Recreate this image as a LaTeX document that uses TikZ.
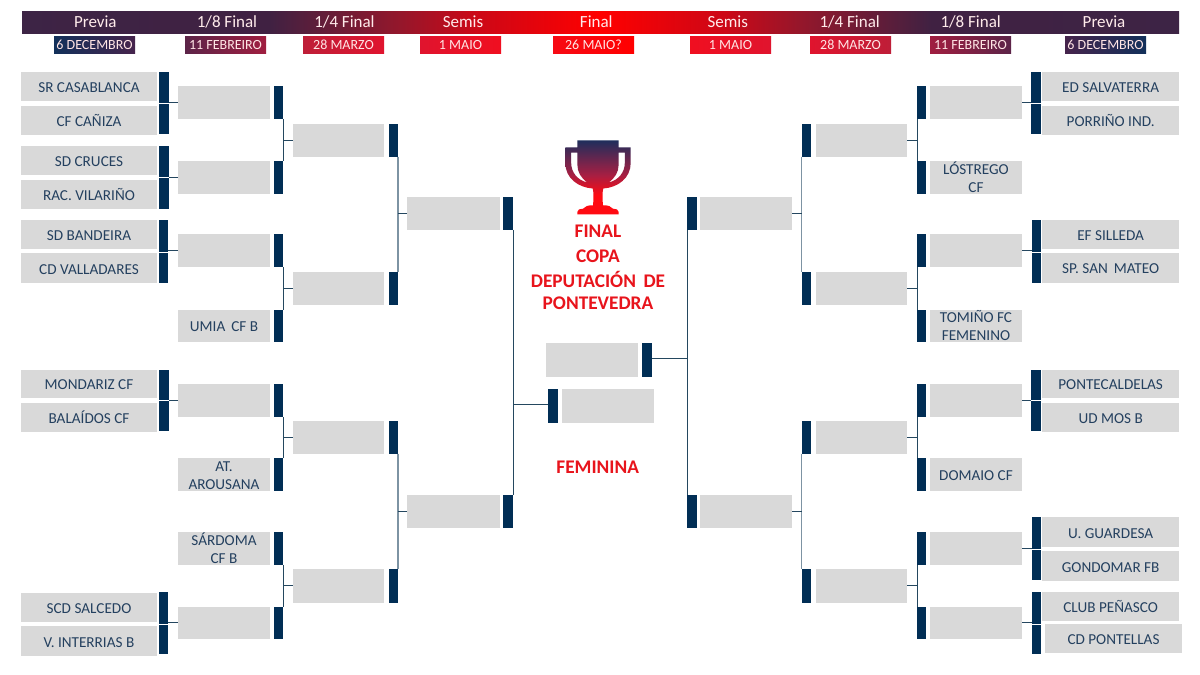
\documentclass[tikz,border=0pt]{standalone}
\usepackage{fontspec}
\setmainfont{Carlito}
\definecolor{navy}{HTML}{012E55}
\definecolor{cellg}{HTML}{D9D9D9}
\definecolor{txt}{HTML}{24405F}
\definecolor{wire}{HTML}{24475F}
\definecolor{wirel}{HTML}{7D93A3}
\definecolor{redt}{HTML}{E8141C}
\pgfdeclarehorizontalshading{hdr}{100bp}{
 rgb(0bp)=(0.24,0.14,0.27);
 rgb(25bp)=(0.24,0.14,0.27);
 rgb(35.7bp)=(0.25,0.13,0.26);
 rgb(41.3bp)=(0.58,0.09,0.17);
 rgb(44.6bp)=(0.80,0.03,0.09);
 rgb(50bp)=(1,0,0);
 rgb(55.4bp)=(0.80,0.03,0.09);
 rgb(58.7bp)=(0.58,0.09,0.17);
 rgb(64.3bp)=(0.25,0.13,0.26);
 rgb(75bp)=(0.24,0.14,0.27);
 rgb(100bp)=(0.24,0.14,0.27)}
\pgfdeclareverticalshading{cupshade}{100bp}{
 rgb(0bp)=(1,0.04,0.07);
 rgb(37.8bp)=(1,0.04,0.07);
 rgb(51.4bp)=(0.66,0.12,0.26);
 rgb(75bp)=(0.12,0.18,0.36);
 rgb(100bp)=(0.12,0.18,0.36)}
\tikzset{
 x=1pt,y=-1pt,
 cell/.style={fill=cellg,text=txt,align=center,inner sep=0pt,outer sep=0pt,font=\fontsize{15.2}{18}\selectfont},
 bar/.style={fill=navy,inner sep=0pt,outer sep=0pt},
 conn/.style={draw=wire,line width=1pt},
 connl/.style={draw=wirel,line width=1.2pt},
 head/.style={text=white!92!red,inner sep=0pt,text height=10.6pt,text depth=0pt,font=\fontsize{17}{20}\selectfont},
 datebox/.style={text=white!90!red,align=center,inner sep=0pt,outer sep=0pt,text height=10.4pt,text depth=0pt,font=\fontsize{14}{16}\selectfont},
 title/.style={text=redt,inner sep=0pt,font=\fontsize{19.3}{22}\selectfont\bfseries},
}
\newcommand{\bx}[7]{\node[#1,minimum width={(#5-#3)*1pt},minimum height={(#6-#4)*1pt}] (#2) at ({(#3+#5)/2},{(#4+#6)/2}) {#7};}
\newcommand{\cx}[6]{\bx{cell}{#1}{#2}{#3}{#4}{#5}{\vphantom{Ñ}#6}}
\newcommand{\dbx}[5]{\bx{datebox,left color=#3,right color=#4}{#1}{#2}{36}{#2+81}{53}{#5}}
\begin{document}
\begin{tikzpicture}
\useasboundingbox (0,0) rectangle (1200,675);
\fill[white] (0,0) rectangle (1200,675);
% header
\node[shading=hdr,inner sep=0pt,outer sep=0pt,minimum width=1157pt,minimum height=22pt] (hbar) at (600.5,22) {};
\node[head] (h1) at (95.3,22) {Previa};
\node[head] (h2) at (227,22) {1/8 Final};
\node[head] (h3) at (344.5,22) {1/4 Final};
\node[head] (h4) at (463,22) {Semis};
\node[head] (h5) at (596.3,22) {Final};
\node[head] (h6) at (727.7,22) {Semis};
\node[head] (h7) at (849.7,22) {1/4 Final};
\node[head] (h8) at (970.7,22) {1/8 Final};
\node[head] (h9) at (1104,22) {Previa};
% dates
\definecolor{d1}{HTML}{12305A}\definecolor{d2}{HTML}{46244C}
\definecolor{d3}{HTML}{5C2448}\definecolor{d4}{HTML}{A01E40}
\definecolor{d5}{HTML}{BE1E38}\definecolor{d6}{HTML}{E0142E}
\definecolor{d7}{HTML}{E0142E}\definecolor{d8}{HTML}{F00F20}
\definecolor{d9}{HTML}{F70A14}\definecolor{d0}{HTML}{FF0000}
\dbx{da}{54}{d1}{d2}{6 DECEMBRO}
\dbx{db}{185}{d3}{d4}{11 FEBREIRO}
\dbx{dc}{303}{d5}{d6}{28 MARZO}
\dbx{dd}{420}{d7}{d8}{1 MAIO}
\dbx{de}{553}{d9}{d0}{26 MAIO?}
\dbx{df}{690}{d8}{d7}{1 MAIO}
\dbx{dg}{810}{d6}{d5}{28 MARZO}
\dbx{dh}{930}{d4}{d3}{11 FEBREIRO}
\dbx{di}{1065}{d2}{d1}{6 DECEMBRO}
% left round 0
\cx{a1}{21}{72}{157}{101}{SR CASABLANCA}
\cx{a2}{21}{106}{157}{135}{CF CAÑIZA}
\cx{a3}{21}{146}{157}{175}{SD CRUCES}
\cx{a4}{21}{180}{157}{209}{RAC. VILARIÑO}
\cx{a5}{21}{219.5}{157}{249}{SD BANDEIRA}
\cx{a6}{21}{253}{157}{283}{CD VALLADARES}
\cx{a7}{21}{369.5}{157}{398}{MONDARIZ CF}
\cx{a8}{21}{403}{157}{432}{BALAÍDOS CF}
\cx{a9}{21}{592.5}{157}{622}{SCD SALCEDO}
\cx{a10}{21}{626}{157}{656}{V. INTERRIAS B}
\bx{bar}{ab1}{159.3}{72}{168.7}{102.8}{}
\bx{bar}{ab2}{159.3}{103.6}{168.7}{134}{}
\bx{bar}{ab3}{159.3}{146}{168.7}{177}{}
\bx{bar}{ab4}{159.3}{178}{168.7}{209}{}
\bx{bar}{ab5}{159.3}{220}{167.8}{252}{}
\bx{bar}{ab6}{159.3}{253}{167.8}{283}{}
\bx{bar}{ab7}{159.3}{369.5}{168.7}{400}{}
\bx{bar}{ab8}{159.3}{401}{168.7}{431}{}
\bx{bar}{ab9}{159.3}{592}{167.8}{623.5}{}
\bx{bar}{ab10}{159.3}{624.5}{167.8}{654}{}
% left round 1
\cx{b1}{178}{86}{270}{119}{}
\cx{b2}{178}{161}{270}{194}{}
\cx{b3}{178}{234}{270}{267}{}
\cx{b4}{178}{309.5}{270}{342}{UMIA\, CF B}
\cx{b5}{178}{383.5}{270}{417}{}
\cx{b6}{178}{458}{270}{491}{AT.\\AROUSANA}
\cx{b7}{178}{531.5}{270}{565}{SÁRDOMA\\CF B}
\cx{b8}{178}{606.5}{270}{639}{}
\bx{bar}{bb1}{273.7}{86}{283}{119}{}
\bx{bar}{bb2}{273.7}{161}{283}{194}{}
\bx{bar}{bb3}{273.7}{234}{283}{267}{}
\bx{bar}{bb4}{273.7}{309.5}{283}{342}{}
\bx{bar}{bb5}{273.7}{383.5}{283}{417}{}
\bx{bar}{bb6}{273.7}{458}{283}{491}{}
\bx{bar}{bb7}{273.7}{531.5}{283}{565}{}
\bx{bar}{bb8}{273.7}{606.5}{283}{639}{}
% left round 2
\cx{c1}{292.7}{124}{384}{156.5}{}
\cx{c2}{292.7}{272}{384}{305}{}
\cx{c3}{292.7}{421}{384}{453.7}{}
\cx{c4}{292.7}{569}{384}{602.7}{}
\bx{bar}{cb1}{389}{124}{398}{156.5}{}
\bx{bar}{cb2}{389}{272}{398}{305}{}
\bx{bar}{cb3}{389}{421}{398}{453.7}{}
\bx{bar}{cb4}{389}{569}{398}{602.7}{}
% left semis
\cx{s1}{407}{197}{499.7}{230}{}
\cx{s2}{407}{495}{499.7}{527.7}{}
\bx{bar}{sb1}{503.3}{197}{513}{230}{}
\bx{bar}{sb2}{503.3}{495}{513}{527.7}{}
% finalists
\cx{f1}{546.3}{343}{638.3}{376.7}{}
\bx{bar}{fb1}{642}{343}{651.7}{376.7}{}
\bx{bar}{fb2}{548.3}{389}{557.7}{422.7}{}
\cx{f2}{561.7}{389}{653.7}{422.7}{}
% right semis
\bx{bar}{tb1}{687}{197}{696.7}{230}{}
\bx{bar}{tb2}{687}{495}{696.7}{527.7}{}
\cx{t1}{700}{197}{792}{230}{}
\cx{t2}{700}{495}{792}{527.7}{}
% right round 2
\bx{bar}{ub1}{801.7}{124}{811}{156.5}{}
\bx{bar}{ub2}{801.7}{272}{811}{305}{}
\bx{bar}{ub3}{801.7}{421}{811}{453.7}{}
\bx{bar}{ub4}{801.7}{569}{811}{602.7}{}
\cx{u1}{815.7}{124}{907.3}{156.5}{}
\cx{u2}{815.7}{272}{907.3}{305}{}
\cx{u3}{815.7}{421}{907.3}{453.7}{}
\cx{u4}{815.7}{569}{907.3}{602.7}{}
% right round 1
\bx{bar}{vb1}{917}{86}{926.3}{119}{}
\bx{bar}{vb2}{917}{161}{926.3}{194}{}
\bx{bar}{vb3}{917}{234}{926.3}{267}{}
\bx{bar}{vb4}{917}{309.5}{926.3}{342}{}
\bx{bar}{vb5}{917}{383.5}{926.3}{417}{}
\bx{bar}{vb6}{917}{458}{926.3}{491}{}
\bx{bar}{vb7}{917}{531.5}{926.3}{565}{}
\bx{bar}{vb8}{917}{606.5}{926.3}{639}{}
\cx{v1}{930}{86}{1022}{119}{}
\cx{v2}{930}{161}{1022}{194}{LÓSTREGO\\CF}
\cx{v3}{930}{234}{1022}{267}{}
\cx{v4}{930}{309.5}{1022}{342}{TOMIÑO FC\\FEMENINO}
\cx{v5}{930}{383.5}{1022}{417}{}
\cx{v6}{930}{458}{1022}{491}{DOMAIO CF}
\cx{v7}{930}{531.5}{1022}{565}{}
\cx{v8}{930}{606.5}{1022}{639}{}
% right round 0
\bx{bar}{wb1}{1031.3}{72}{1040.7}{102.8}{}
\bx{bar}{wb2}{1031.3}{103.6}{1040.7}{134}{}
\bx{bar}{wb3}{1032.3}{220}{1040.7}{252}{}
\bx{bar}{wb4}{1032.3}{253}{1040.7}{283}{}
\bx{bar}{wb5}{1031.3}{369.5}{1040.7}{400}{}
\bx{bar}{wb6}{1031.3}{401}{1040.7}{431}{}
\bx{bar}{wb7}{1032.3}{517.3}{1040.7}{548.5}{}
\bx{bar}{wb8}{1032.3}{549.5}{1040.7}{580}{}
\bx{bar}{wb9}{1032.3}{591.7}{1040.7}{623.5}{}
\bx{bar}{wb10}{1032.3}{624.5}{1040.7}{654}{}
\cx{w1}{1042.3}{72}{1179}{101}{ED SALVATERRA}
\cx{w2}{1042.3}{106}{1179}{135}{PORRIÑO IND.}
\cx{w3}{1042.3}{219.5}{1179}{249}{EF SILLEDA}
\cx{w4}{1042.3}{253}{1179}{283}{SP. SAN\, MATEO}
\cx{w5}{1042.3}{369.5}{1179}{398}{PONTECALDELAS}
\cx{w6}{1042.3}{403}{1179}{432}{UD MOS B}
\cx{w7}{1042.3}{517.3}{1179}{546.7}{U. GUARDESA}
\cx{w8}{1042.3}{551}{1179}{581}{GONDOMAR FB}
\cx{w9}{1042.3}{591.7}{1179}{621}{CLUB PEÑASCO}
\cx{w10}{1045}{624}{1182}{653}{CD PONTELLAS}
% connectors: previa to 1/8
\draw[conn] (b1.west) -- (ab1.south east |- b1.west);
\draw[conn] (b2.west) -- (ab3.south east |- b2.west);
\draw[conn] (b3.west) -- (ab5.south east |- b3.west);
\draw[conn] (b5.west) -- (ab7.south east |- b5.west);
\draw[conn] (b8.west) -- (ab9.south east |- b8.west);
\draw[conn] (v1.east) -- (wb1.south west |- v1.east);
\draw[conn] (v3.east) -- (wb3.south west |- v3.east);
\draw[conn] (v5.east) -- (wb5.south west |- v5.east);
\draw[conn] (v7.east) -- (wb7.south west |- v7.east);
\draw[conn] (v8.east) -- (wb9.south west |- v8.east);
% 1/8 to 1/4
\draw[conn] (bb1.south east) -- (bb2.north east);
\draw[conn] (bb3.south east) -- (bb4.north east);
\draw[conn] (bb5.south east) -- (bb6.north east);
\draw[conn] (bb7.south east) -- (bb8.north east);
\draw[conn] (c1.west) -- (bb1.east |- c1.west);
\draw[conn] (c2.west) -- (bb3.east |- c2.west);
\draw[conn] (c3.west) -- (bb5.east |- c3.west);
\draw[conn] (c4.west) -- (bb7.east |- c4.west);
\draw[conn] (vb1.south west) -- (vb2.north west);
\draw[conn] (vb3.south west) -- (vb4.north west);
\draw[conn] (vb5.south west) -- (vb6.north west);
\draw[conn] (vb7.south west) -- (vb8.north west);
\draw[conn] (u1.east) -- (vb1.west |- u1.east);
\draw[conn] (u2.east) -- (vb3.west |- u2.east);
\draw[conn] (u3.east) -- (vb5.west |- u3.east);
\draw[conn] (u4.east) -- (vb7.west |- u4.east);
% 1/4 to semis
\draw[connl] (cb1.south east) -- (cb2.north east);
\draw[connl] (cb3.south east) -- (cb4.north east);
\draw[conn] (s1.west) -- (cb1.east |- s1.west);
\draw[conn] (s2.west) -- (cb3.east |- s2.west);
\draw[connl] (ub1.south west) -- (ub2.north west);
\draw[connl] (ub3.south west) -- (ub4.north west);
\draw[conn] (t1.east) -- (ub1.west |- t1.east);
\draw[conn] (t2.east) -- (ub3.west |- t2.east);
% semis to final
\draw[conn] (sb1.south east) -- (sb2.north east);
\draw[conn] (tb1.south west) -- (tb2.north west);
\coordinate (jl) at (fb2.west |- 0,404);
\coordinate (jr) at (fb1.east |- 0,358);
\draw[conn] (jl) -- (sb1.east |- jl);
\draw[conn] (jr) -- (tb1.west |- jr);
% trophy
\shade[even odd rule,shading=cupshade]
 (577.4,140.4) -- (618.6,140.4) -- (618.6,147.4) -- (630.7,147.4) -- (630.7,163)
 .. controls (630.7,178) and (618,187.5) .. (603.3,188.5)
 .. controls (602.2,192) and (602.4,200) .. (603,205.3)
 .. controls (608,205.3) and (611,206) .. (613,208.7)
 .. controls (616,208.7) and (618.7,209.5) .. (618.7,212) -- (618.7,214.4) -- (577.3,214.4) -- (577.3,212)
 .. controls (577.3,209.5) and (580,208.7) .. (583,208.7)
 .. controls (585,206) and (588,205.3) .. (593,205.3)
 .. controls (593.6,200) and (593.8,192) .. (592.7,188.5)
 .. controls (578,187.5) and (565.3,178) .. (565.3,163) -- (565.3,147.4) -- (577.4,147.4) -- cycle
 (571.2,152.7) -- (577.4,152.7) -- (577.4,165) .. controls (577.4,172) and (581,178) .. (587.3,182.5)
 .. controls (577,180) and (571.2,172) .. (571.2,163) -- cycle
 (624.8,152.7) -- (618.6,152.7) -- (618.6,165) .. controls (618.6,172) and (615,178) .. (608.7,182.5)
 .. controls (619,180) and (624.8,172) .. (624.8,163) -- cycle;
% titles
\node[title] (t-a) at (598,231.7) {FINAL};
\node[title] (t-b) at (598,256) {COPA};
\node[title] (t-c) at (598,279) {DEPUTACIÓN\, DE};
\node[title] (t-d) at (598,303) {PONTEVEDRA};
\node[title] (t-e) at (597.7,467) {FEMININA};
\end{tikzpicture}
\end{document}
